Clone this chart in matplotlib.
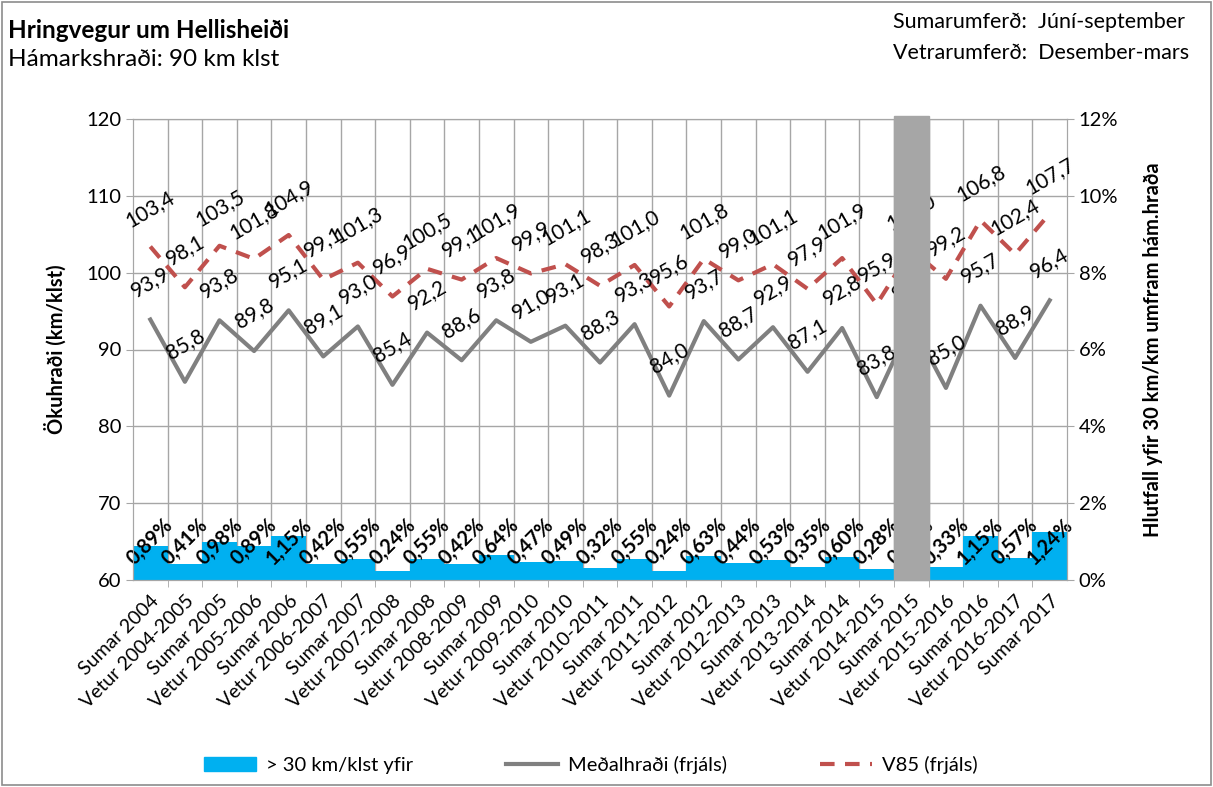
import matplotlib.pyplot as plt
from matplotlib.lines import Line2D
from matplotlib.patches import Patch, Rectangle
import numpy as np

plt.rcParams['font.family'] = ['Lato', 'DejaVu Sans']

categories = ["Sumar 2004", "Vetur 2004-2005", "Sumar 2005", "Vetur 2005-2006", "Sumar 2006",
              "Vetur 2006-2007", "Sumar 2007", "Vetur 2007-2008", "Sumar 2008", "Vetur 2008-2009",
              "Sumar 2009", "Vetur 2009-2010", "Sumar 2010", "Vetur 2010-2011", "Sumar 2011",
              "Vetur 2011-2012", "Sumar 2012", "Vetur 2012-2013", "Sumar 2013", "Vetur 2013-2014",
              "Sumar 2014", "Vetur 2014-2015", "Sumar 2015", "Vetur 2015-2016", "Sumar 2016",
              "Vetur 2016-2017", "Sumar 2017"]
pct_over = [0.89, 0.41, 0.98, 0.89, 1.15, 0.42, 0.55, 0.24, 0.55, 0.42, 0.64, 0.47, 0.49, 0.32,
            0.55, 0.24, 0.63, 0.44, 0.53, 0.35, 0.60, 0.28, 0.55, 0.33, 1.15, 0.57, 1.24]
mean_speed = [93.9, 85.8, 93.8, 89.8, 95.1, 89.1, 93.0, 85.4, 92.2, 88.6, 93.8, 91.0, 93.1, 88.3,
              93.3, 84.0, 93.7, 88.7, 92.9, 87.1, 92.8, 83.8, 93.5, 85.0, 95.7, 88.9, 96.4]
v85 = [103.4, 98.1, 103.5, 101.8, 104.9, 99.1, 101.3, 96.9, 100.5, 99.1, 101.9, 99.9, 101.1, 98.3,
       101.0, 95.6, 101.8, 99.0, 101.1, 97.9, 101.9, 95.9, 103.0, 99.2, 106.8, 102.4, 107.7]
hidden = "Sumar 2015"

BLUE = "#00B0F0"
GRAY = "#808080"
RED = "#C0504D"
GRID = "#A6A6A6"
FS = 14.5

fig = plt.figure(figsize=(12.13, 7.87), dpi=100)
axb = fig.add_axes([133/1213, 1-580/787, (1067-133)/1213, (580-119)/787])
x = np.arange(len(categories))

# bars (right axis) go on the base axes so grid stays behind them
axb.bar(x, pct_over, width=1.0, color=BLUE, zorder=2)
axb.set_ylim(0, 12)
axb.set_xlim(-0.5, len(categories) - 0.5)
axb.set_xticks(x)
axb.set_xticklabels(categories, rotation=45, ha='right', rotation_mode='anchor', fontsize=FS - 0.5)
axb.set_xticks(x[:-1] + 0.5, minor=True)
axb.tick_params(axis='x', which='major', length=0, pad=9)
axb.tick_params(axis='x', which='minor', length=5, color=GRID)
axb.grid(True, which='minor', axis='x', color=GRID, lw=1, zorder=0)
axb.grid(True, which='major', axis='y', color=GRID, lw=1, zorder=0)
axb.set_axisbelow(True)
for s in axb.spines.values():
    s.set_color(GRID)

for i, v in enumerate(pct_over):
    axb.text(i, 1.0, f"{v:.2f}%".replace('.', ','), rotation=45, ha='center', va='center',
             fontsize=FS, fontweight='bold', zorder=3)

# speed lines (left axis)
axl = axb.twinx()
axl.yaxis.tick_left()
axl.yaxis.set_label_position('left')
axl.set_ylim(60, 120)
axl.set_yticks(np.arange(60, 121, 10))
axl.tick_params(axis='y', labelsize=FS, length=5, color=GRID)
axl.set_ylabel("Ökuhraði (km/klst)", fontsize=FS, fontweight='bold', labelpad=14)
for s in axl.spines.values():
    s.set_color(GRID)

# twinx moved the base ticks to the left, put them back on the right
axb.yaxis.tick_right()
axb.yaxis.set_label_position('right')
axb.set_yticks(np.arange(0, 13, 2))
axb.set_yticklabels([f"{t}%" for t in range(0, 13, 2)], fontsize=FS)
axb.tick_params(axis='y', length=5, color=GRID)
axb.set_ylabel("Hlutfall yfir 30 km/km umfram hám.hraða", fontsize=FS, fontweight='bold', labelpad=18)

axl.plot(x, mean_speed, color=GRAY, lw=3, zorder=3)
axl.plot(x, v85, color=RED, lw=3, dashes=(3.5, 2.5), zorder=3)
for i in range(len(categories)):
    for v in (mean_speed[i], v85[i]):
        axl.annotate(f"{v:.1f}".replace('.', ','), (i, v), xytext=(0, 27), textcoords='offset points',
                     rotation=30, ha='center', va='center', fontsize=FS + 0.5, zorder=5)

# grey box covering the missing summer
k = categories.index(hidden)
axl.axvspan(k - 0.5, k + 0.5, ymin=0, ymax=1.006, color="#A6A6A6", zorder=10, clip_on=False)

fig.text(8/1213, 1-30/787, "Hringvegur um Hellisheiði", fontsize=17.5, fontweight='bold', va='center')
fig.text(8/1213, 1-60/787, "Hámarkshraði: 90 km klst", fontsize=17.5, va='center')
fig.text(893/1213, 1-22/787, "Sumarumferð:  Júní-september", fontsize=15.5, va='center')
fig.text(893/1213, 1-53/787, "Vetrarumferð:  Desember-mars", fontsize=15.5, va='center')

handles = [Patch(color=BLUE), Line2D([], [], color=GRAY, lw=3),
           Line2D([], [], color=RED, lw=3, dashes=(3.5, 2.5))]
fig.legend(handles, ["> 30 km/klst yfir", "Meðalhraði (frjáls)", "V85 (frjáls)"],
           loc='center', bbox_to_anchor=(0.487, 1-765/787), ncol=3, frameon=False, fontsize=FS,
           handlelength=2.6, handleheight=0.7, columnspacing=4.6, handletextpad=0.5)

fig.patches.append(Rectangle((0.002, 0.002), 0.996, 0.996, transform=fig.transFigure,
                             fill=False, edgecolor="#8C8C8C", lw=1.2))

fig.savefig("out.png", dpi=100)
